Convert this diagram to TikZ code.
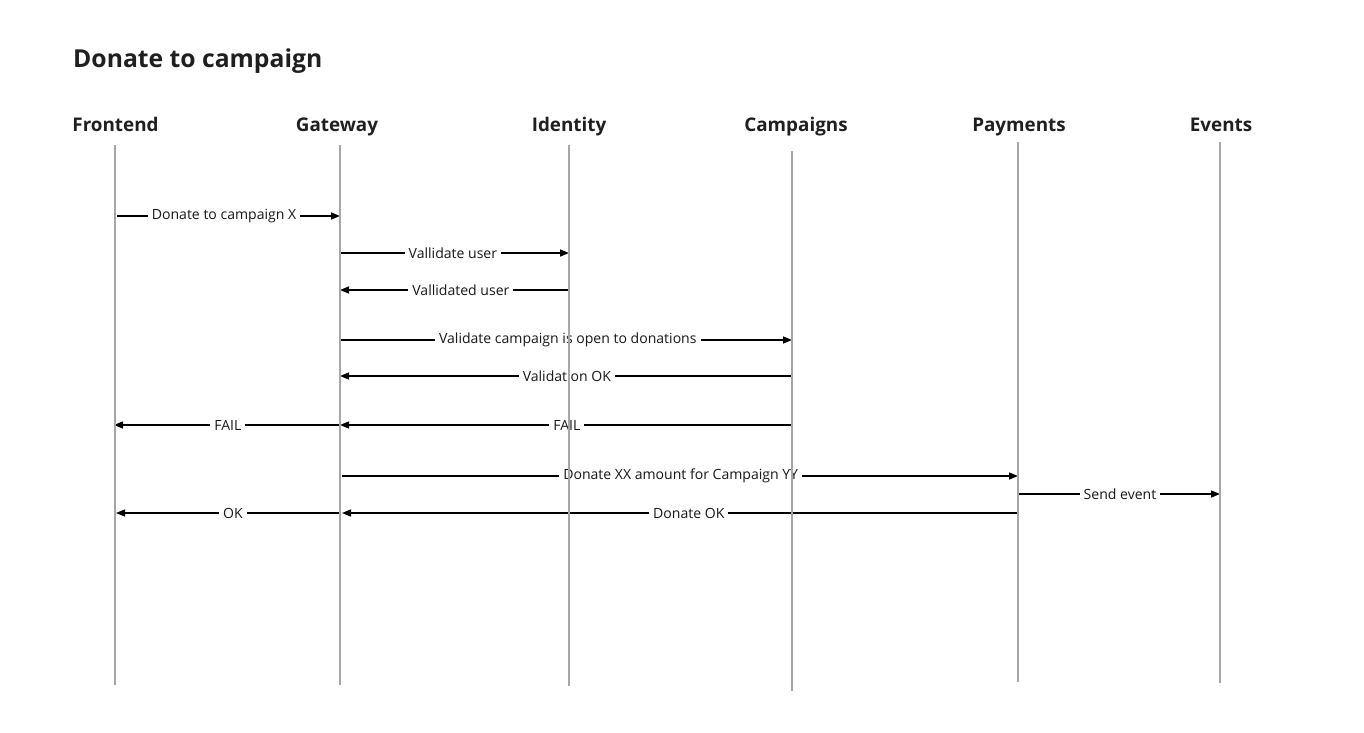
\documentclass[tikz,border=0pt]{standalone}
\usepackage{fontspec}
\setmainfont{Open Sans}
\usetikzlibrary{arrows.meta}
\begin{document}
\begin{tikzpicture}[x=1bp,y=1bp,
  lifeline/.style={draw=black!35, line width=2bp},
  header/.style={font=\fontsize{18.9}{21}\selectfont\bfseries, text=black!88, inner sep=0pt, anchor=base},
  msg/.style={draw=black, line width=1.5bp, -{Triangle[length=9bp,width=7bp]}},
  lbl/.style={fill=white, inner sep=4bp, font=\fontsize{14.1}{16}\selectfont, text=black!90}
]
\useasboundingbox (0,0) rectangle (1364,-732);
\node[anchor=base west, inner sep=0pt, font=\fontsize{24.8}{28}\selectfont\bfseries, text=black!88] (title) at (73,-68) {Donate to campaign};
% lifeline ends
\coordinate (Ft) at (115,-145); \coordinate (Fb) at (115,-685);
\coordinate (Gt) at (340,-145); \coordinate (Gb) at (340,-685);
\coordinate (It) at (569,-145); \coordinate (Ib) at (569,-686);
\coordinate (Ct) at (792,-151); \coordinate (Cb) at (792,-691);
\coordinate (Pt) at (1018,-142); \coordinate (Pb) at (1018,-682);
\coordinate (Et) at (1220,-142); \coordinate (Eb) at (1220,-683);
% headers
\node[header] (hF) at (115.5,-132) {Frontend};
\node[header] (hG) at (337,-132) {Gateway};
\node[header] (hI) at (569,-132) {Identity};
\node[header] (hC) at (796,-132) {Campaigns};
\node[header] (hP) at (1019,-132) {Payments};
\node[header] (hE) at (1221,-132) {Events};
% message rows
\coordinate (m1) at (0,-216);
\coordinate (m2) at (0,-253);
\coordinate (m3) at (0,-290);
\coordinate (m4) at (0,-340);
\coordinate (m5) at (0,-376);
\coordinate (m6) at (0,-425);
\coordinate (m7) at (0,-476);
\coordinate (m8) at (0,-494);
\coordinate (m9) at (0,-513);
% messages
\draw[msg] ([xshift=2bp]Ft |- m1) -- node[lbl, pos=0.48] (l1) {Donate to campaign X} (Gt |- m1);
\draw[msg] (Gt |- m2) -- node[lbl, pos=0.493] (l2) {Vallidate user} (It |- m2);
\draw[msg] (It |- m3) -- node[lbl, pos=0.472] (l3) {Vallidated user} (Gt |- m3);
\draw[msg] (Gt |- m4) -- node[lbl, pos=0.504] (l4) {Validate campaign is open to donations} (Ct |- m4);
\draw[msg] (Ct |- m5) -- node[lbl, pos=0.498] (l5) {Validation OK} (Gt |- m5);
\draw[msg] (Ct |- m6) -- node[lbl, pos=0.498] (l6) {FAIL} (Gt |- m6);
\draw[msg] (Gt |- m6) -- node[lbl, pos=0.496] (l7) {FAIL} ([xshift=-1bp]Ft |- m6);
\draw[msg] ([xshift=2bp]Gt |- m7) -- node[lbl, pos=0.501] (l8) {Donate XX amount for Campaign YY} (Pt |- m7);
\draw[msg] (Pt |- m8) -- node[lbl, pos=0.505] (l9) {Send event} (Et |- m8);
\draw[msg] (Pt |- m9) -- node[lbl, pos=0.487] (l10) {Donate OK} ([xshift=2bp]Gt |- m9);
\draw[msg] (Gt |- m9) -- node[lbl, pos=0.478] (l11) {OK} ([xshift=1bp]Ft |- m9);
% lifelines on top
\draw[lifeline] (Ft) -- (Fb);
\draw[lifeline] (Gt) -- (Gb);
\draw[lifeline] (It) -- (Ib);
\draw[lifeline] (Ct) -- (Cb);
\draw[lifeline] (Pt) -- (Pb);
\draw[lifeline] (Et) -- (Eb);
\end{tikzpicture}
\end{document}
